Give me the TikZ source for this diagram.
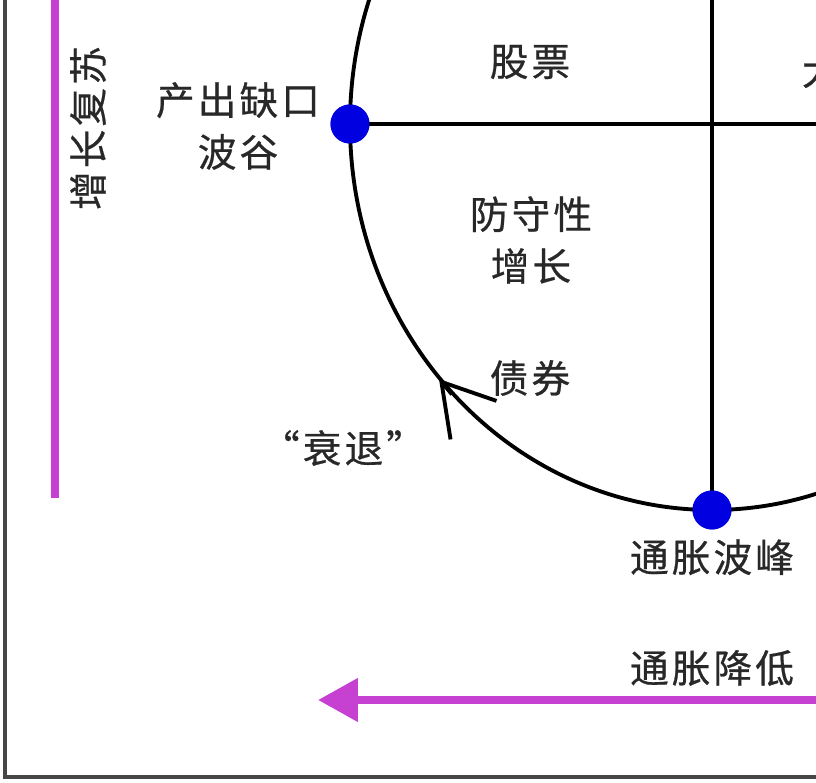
\documentclass[tikz,border=0pt]{standalone}
\usepackage{fontspec}
\newfontfamily\cjk[LetterSpace=8, FakeBold=0.6]{Noto Sans CJK SC}
\usetikzlibrary{positioning, arrows.meta, calc}

\definecolor{trendpink}{RGB}{198,64,210}
\definecolor{dotblue}{RGB}{0,0,225}
\definecolor{labelgray}{RGB}{40,40,40}

\begin{document}
\begin{tikzpicture}[
    x=0.02cm, y=-0.02cm,
    line width=2.2pt,
    label/.style={font=\cjk\fontsize{22}{29.5}\selectfont, text=labelgray, align=center, inner sep=0pt},
    dot/.style={circle, fill=dotblue, minimum size=0.78cm, inner sep=0pt},
    trend/.style={draw=trendpink, line width=4.5pt}
]{
    \useasboundingbox (0,0) rectangle (816,783);
    \clip (0,0) rectangle (816,783);

    % frame
    \draw[gray!55!black, line width=1.8pt] (5,-20) rectangle (840,777);

    \coordinate (centre) at (712,124);
    \coordinate (east_end) at (840,124);
    \coordinate (north_end) at (712,-20);
    \coordinate (growth_top) at (55,-20);
    \coordinate (growth_bottom) at (55,498);
    \coordinate (falling_start) at (840,700);
    \coordinate (falling_tip) at (318,700);
    \coordinate (cycle_tip) at (439,379);

    \node[dot](trough) at (350,124){};
    \node[dot](peak) at (712,510){};

    % clock
    \draw (centre) ellipse [x radius=362, y radius=386];
    \draw (trough.center) -- (east_end);
    \draw (north_end) -- (peak.center);
    \draw[-{Straight Barb[length=1cm, width=1.2cm]}] ($(cycle_tip)+(13,15.5)$) -- (cycle_tip);

    \node[dot] at (trough){};
    \node[dot] at (peak){};

    % trends
    \draw[trend] (growth_top) -- (growth_bottom);
    \draw[trend, -{Triangle[length=0.8cm, width=0.84cm]}] (falling_start) -- (falling_tip);

    % labels
    \node[label, rotate=90](growth) at (88,128){增长复苏};
    \node[label](gap) at (238,126){产出缺口\\波谷};
    \node[label](stocks) at (530,62){股票};
    \node[label](defensive) at (531,240){防守性\\增长};
    \node[label](bonds) at (530,378){债券};
    \node[label](recession) at (343,448){“衰退”};
    \node[label, below=0.12cm of peak](peak_label){通胀波峰};
    \node[label](falling) at (712,668){通胀降低};
    \node[label, anchor=west](commodities) at (800,70){大宗商品};
}
\end{tikzpicture}
\end{document}
